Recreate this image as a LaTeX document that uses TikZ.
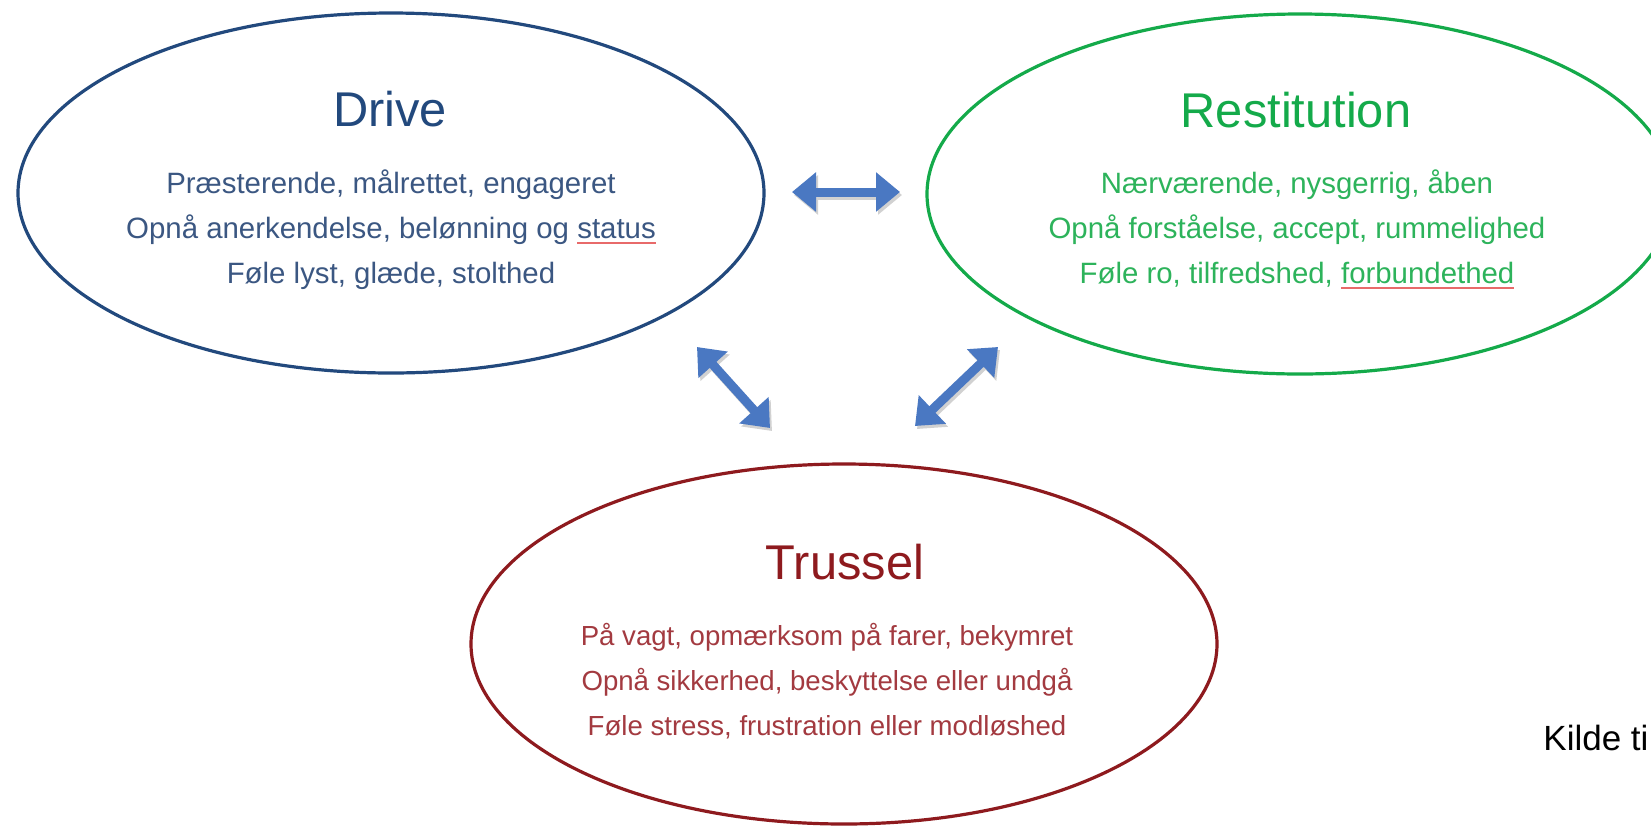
\documentclass[tikz,border=0pt]{standalone}
\usepackage{fontspec}
\setmainfont{Liberation Sans}
\usetikzlibrary{shapes.geometric,arrows.meta}
\definecolor{drv}{HTML}{22497D}
\definecolor{drvtxt}{HTML}{3B5782}
\definecolor{rst}{HTML}{14AA4A}
\definecolor{rsttxt}{HTML}{2DB35B}
\definecolor{trs}{HTML}{8E1A1E}
\definecolor{trstxt}{HTML}{A33A40}
\definecolor{arr}{HTML}{4A78C2}
\definecolor{spellred}{HTML}{E86A6A}
\newsavebox\spellbox
\newcommand\spellul[1]{\sbox\spellbox{#1}\rlap{\color{spellred}\rule[-3pt]{\wd\spellbox}{1pt}}\usebox\spellbox}
\tikzset{
  oval/.style={ellipse, draw, line width=1.6pt, minimum width=373pt, minimum height=180pt, inner sep=0pt},
  ttl/.style={anchor=base, inner sep=0pt, font=\fontsize{24.4}{29}\selectfont},
  bodyline/.style={anchor=base, inner sep=0pt, font=\fontsize{14.7}{18}\selectfont},
  smallbody/.style={anchor=base, inner sep=0pt, font=\fontsize{13.8}{17}\selectfont},
  dblarrow/.style={draw=arr, line width=4.5pt, {Triangle[width=19pt,length=12pt]}-{Triangle[width=19pt,length=12pt]}},
  shadowarrow/.style={draw=black!18, line width=4.5pt, {Triangle[width=19pt,length=12pt]}-{Triangle[width=19pt,length=12pt]}}
}
\begin{document}
\begin{tikzpicture}[x=0.5pt,y=-0.5pt]
\useasboundingbox (0,0) rectangle (1651,826);
\fill[white] (0,0) rectangle (1651,826);

% ellipses
\node[oval, draw=drv] (drive) at (391,193) {};
\node[oval, draw=rst] (rest) at (1300,194) {};
\node[oval, draw=trs] (truss) at (844,644) {};

% Drive texts
\node[ttl, text=drv] (driveT) at (390,126) {Drive};
\node[bodyline, text=drvtxt] (drive1) at (391,193) {Præsterende, målrettet, engageret};
\node[bodyline, text=drvtxt] (drive2) at (391,238) {Opnå anerkendelse, belønning og \spellul{status}};
\node[bodyline, text=drvtxt] (drive3) at (391,283) {Føle lyst, glæde, stolthed};

% Restitution texts
\node[ttl, text=rst] (restT) at (1296,127) {Restitution};
\node[bodyline, text=rsttxt] (rest1) at (1297,193) {Nærværende, nysgerrig, åben};
\node[bodyline, text=rsttxt] (rest2) at (1297,238) {Opnå forståelse, accept, rummelighed};
\node[bodyline, text=rsttxt] (rest3) at (1297,283) {Føle ro, tilfredshed, \spellul{forbundethed}};

% Trussel texts
\node[ttl, text=trs] (trussT) at (845,579) {Trussel};
\node[smallbody, text=trstxt] (truss1) at (827,645) {På vagt, opmærksom på farer, bekymret};
\node[smallbody, text=trstxt] (truss2) at (827,690) {Opnå sikkerhed, beskyttelse eller undgå};
\node[smallbody, text=trstxt] (truss3) at (827,735) {Føle stress, frustration eller modløshed};

% source note
\node[anchor=base west, inner sep=0pt, font=\fontsize{17.5}{21}\selectfont] (kilde) at (1543,750) {Kilde ti};

% arrows
\coordinate (h1) at (792,192); \coordinate (h2) at (900,192);
\coordinate (l1) at (697,347); \coordinate (l2) at (770,428);
\coordinate (r1) at (998,347); \coordinate (r2) at (915,426);
\coordinate (h1s) at (794,195); \coordinate (h2s) at (902,195);
\coordinate (l1s) at (699,350); \coordinate (l2s) at (772,431);
\coordinate (r1s) at (1000,350); \coordinate (r2s) at (917,429);
\draw[shadowarrow] (h1s) -- (h2s);
\draw[shadowarrow] (l1s) -- (l2s);
\draw[shadowarrow] (r1s) -- (r2s);
\draw[dblarrow] (h1) -- (h2);
\draw[dblarrow] (l1) -- (l2);
\draw[dblarrow] (r1) -- (r2);
\end{tikzpicture}
\end{document}
